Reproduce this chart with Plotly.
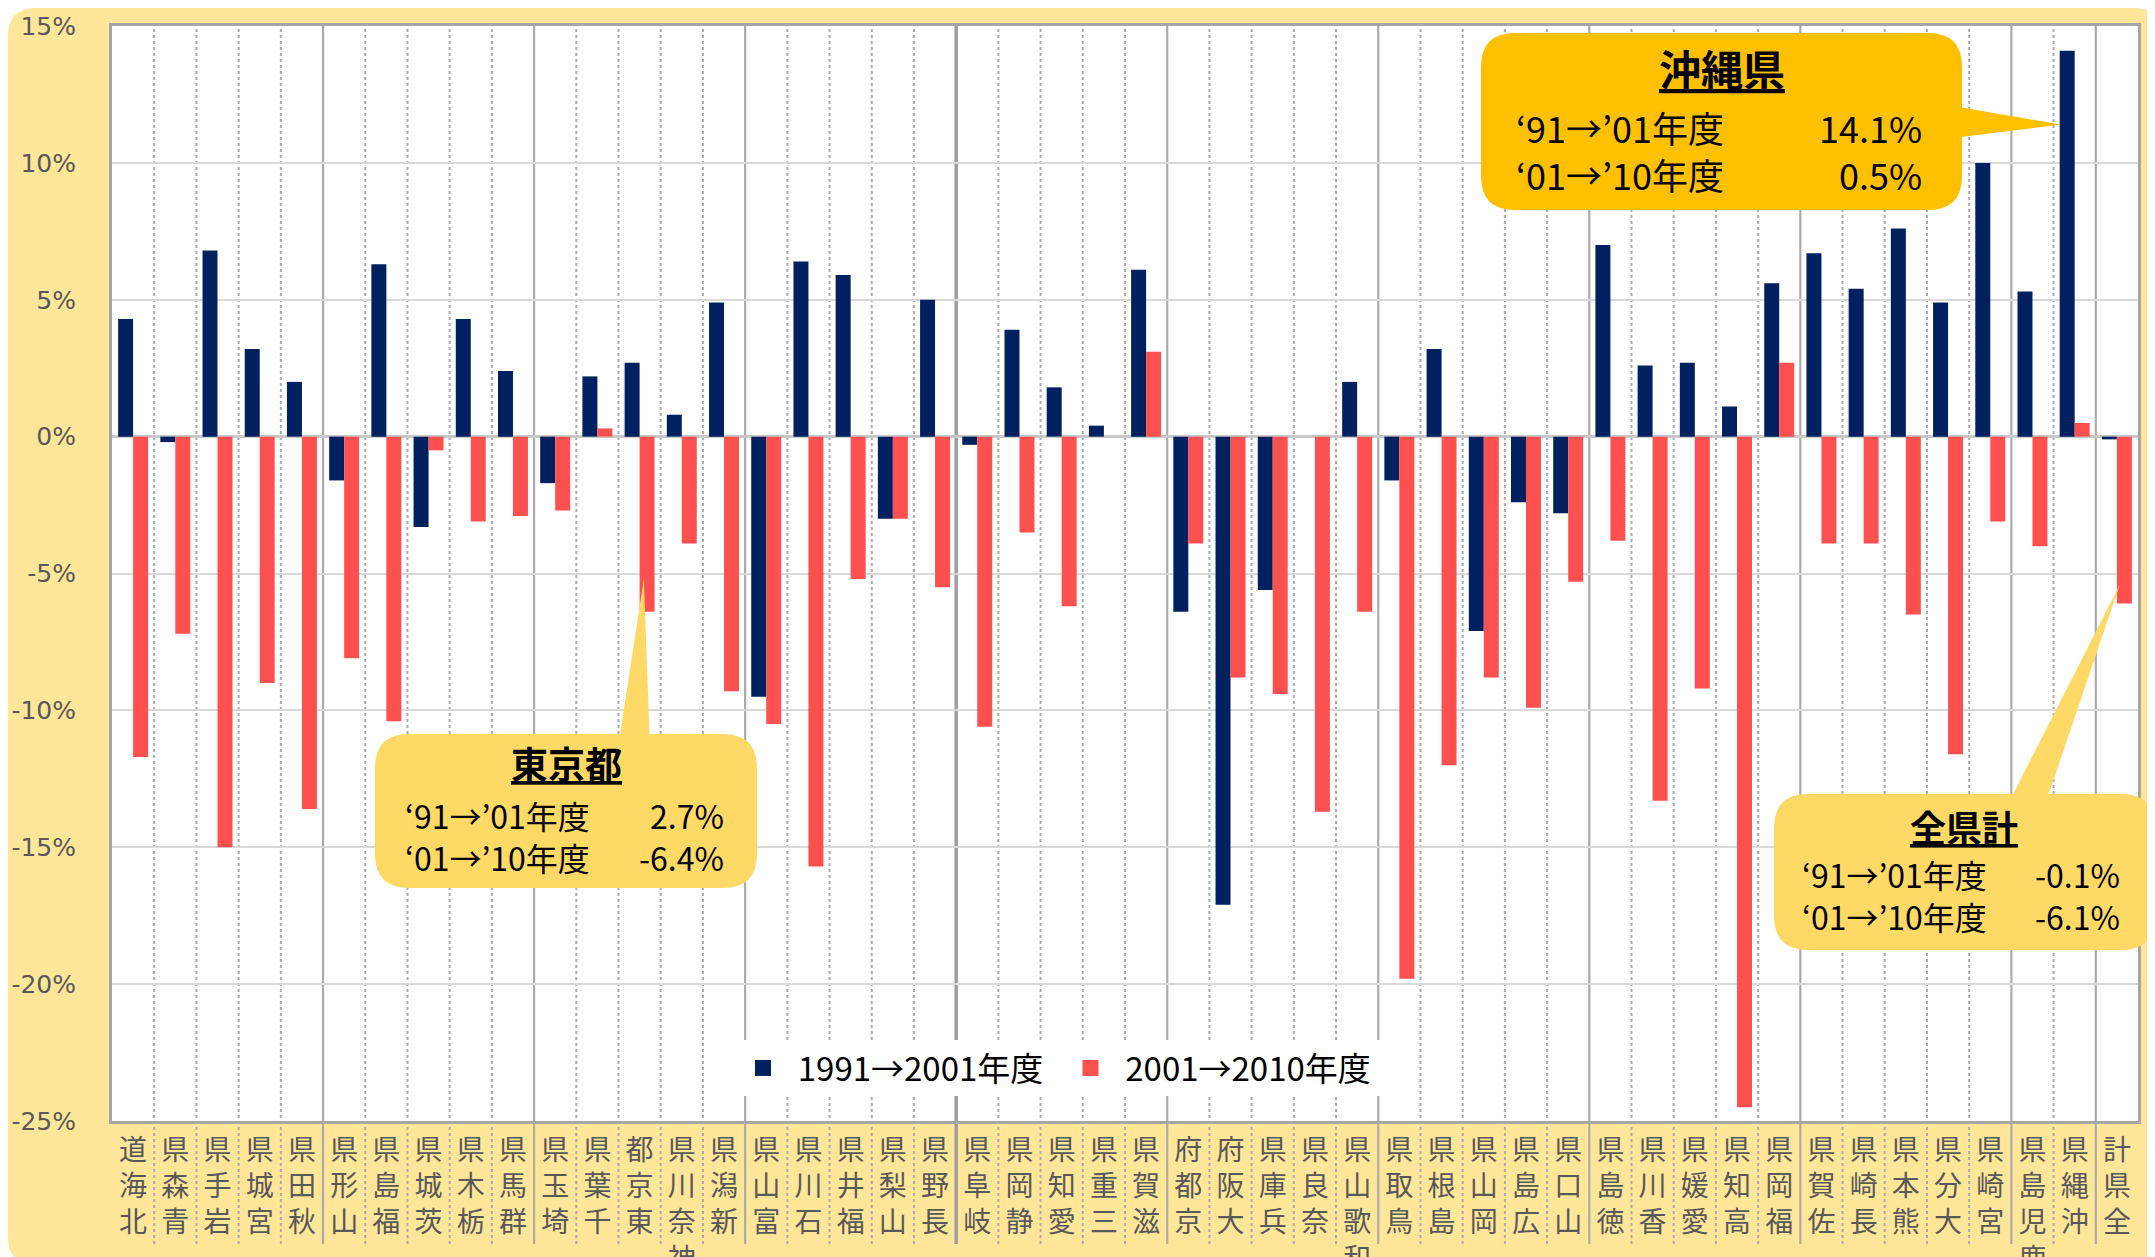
import plotly.graph_objects as go

# ---------------- data ----------------
prefectures = ["北海道", "青森県", "岩手県", "宮城県", "秋田県", "山形県", "福島県", "茨城県", "栃木県", "群馬県",
               "埼玉県", "千葉県", "東京都", "神奈川県", "新潟県", "富山県", "石川県", "福井県", "山梨県", "長野県",
               "岐阜県", "静岡県", "愛知県", "三重県", "滋賀県", "京都府", "大阪府", "兵庫県", "奈良県", "和歌山県",
               "鳥取県", "島根県", "岡山県", "広島県", "山口県", "徳島県", "香川県", "愛媛県", "高知県", "福岡県",
               "佐賀県", "長崎県", "熊本県", "大分県", "宮崎県", "鹿児島県", "沖縄県", "全県計"]

change_1991_2001 = [4.3, -0.2, 6.8, 3.2, 2.0, -1.6, 6.3, -3.3, 4.3, 2.4,
                    -1.7, 2.2, 2.7, 0.8, 4.9, -9.5, 6.4, 5.9, -3.0, 5.0,
                    -0.3, 3.9, 1.8, 0.4, 6.1, -6.4, -17.1, -5.6, 0.0, 2.0,
                    -1.6, 3.2, -7.1, -2.4, -2.8, 7.0, 2.6, 2.7, 1.1, 5.6,
                    6.7, 5.4, 7.6, 4.9, 10.0, 5.3, 14.1, -0.1]

change_2001_2010 = [-11.7, -7.2, -15.0, -9.0, -13.6, -8.1, -10.4, -0.5, -3.1, -2.9,
                    -2.7, 0.3, -6.4, -3.9, -9.3, -10.5, -15.7, -5.2, -3.0, -5.5,
                    -10.6, -3.5, -6.2, 0.0, 3.1, -3.9, -8.8, -9.4, -13.7, -6.4,
                    -19.8, -12.0, -8.8, -9.9, -5.3, -3.8, -13.3, -9.2, -24.5, 2.7,
                    -3.9, -3.9, -6.5, -11.6, -3.1, -4.0, 0.5, -6.1]

series_names = ["1991→2001年度", "2001→2010年度"]
period_labels = ["‘91→’01年度", "‘01→’10年度"]
y_ticks = [-25, -20, -15, -10, -5, 0, 5, 10, 15]
y_tick_labels = ["-25%", "-20%", "-15%", "-10%", "-5%", "0%", "5%", "10%", "15%"]
group_ends = [5, 10, 15, 20, 25, 30, 35, 40, 45, 47]   # solid separators after these counts

# ---------------- layout geometry ----------------
W, H = 2155, 1257
ML, MR, MT, MB = 104, 25, 18, 144
PW, PH = W - ML - MR, H - MT - MB
YMIN, YMAX = -25, 15
N = len(prefectures)

NAVY = "#002060"
RED = "#FF5050"
BG = "#FFE699"
GRAY_TXT = "#595959"
CJK = "Noto Sans CJK JP, Noto Sans, sans-serif"
NB = "\u00a0"


def px(x):
    return (x - ML) / PW


def py(y):
    return (H - MB - y) / PH


def data_px(cat, v, off=0.0):
    i = prefectures.index(cat)
    return ML + (i + 0.5 + off) * PW / N, MT + (YMAX - v) / (YMAX - YMIN) * PH


def rrect(x0, y0, x1, y1, r):
    return (f"M{px(x0 + r)},{py(y0)} L{px(x1 - r)},{py(y0)} Q{px(x1)},{py(y0)} {px(x1)},{py(y0 + r)} "
            f"L{px(x1)},{py(y1 - r)} Q{px(x1)},{py(y1)} {px(x1 - r)},{py(y1)} "
            f"L{px(x0 + r)},{py(y1)} Q{px(x0)},{py(y1)} {px(x0)},{py(y1 - r)} "
            f"L{px(x0)},{py(y0 + r)} Q{px(x0)},{py(y0)} {px(x0 + r)},{py(y0)} Z")


def wedge(b1, b2, tip):
    return f"M{px(b1[0])},{py(b1[1])} L{px(b2[0])},{py(b2[1])} L{px(tip[0])},{py(tip[1])} Z"


tick_text = ["<br>".join(reversed(list(p))) for p in prefectures]

fig = go.Figure()
fig.add_trace(go.Bar(x=prefectures, y=change_1991_2001, name=series_names[0], showlegend=False,
                     marker=dict(color=NAVY, line=dict(width=0))))
fig.add_trace(go.Bar(x=prefectures, y=change_2001_2010, name=series_names[1], showlegend=False,
                     marker=dict(color=RED, line=dict(width=0))))
# legend entries (larger square swatches)
for nm, col in zip(series_names, [NAVY, RED]):
    fig.add_trace(go.Scatter(x=[None], y=[None], mode="markers", name=NB * 2 + nm + NB * 3,
                             marker=dict(symbol="square", size=16, color=col)))

shapes = []
# background
shapes.append(dict(type="path", xref="paper", yref="paper", layer="below",
                   path=rrect(0, 0, W, H, 28), fillcolor=BG, line=dict(width=0)))
shapes.append(dict(type="rect", xref="paper", yref="paper", layer="below",
                   x0=0, x1=1, y0=0, y1=1, fillcolor="white", line=dict(width=0)))
# vertical separators
for k in range(1, N):
    solid = k in group_ends
    shapes.append(dict(type="line", xref="x", yref="paper", layer="below",
                       x0=k - 0.5, x1=k - 0.5, y0=py(1236), y1=1,
                       line=dict(color="#9E9E9E" if k == 20 else "#ABABAB",
                                 width=3.5 if k == 20 else (2.2 if solid else 2),
                                 dash="solid" if solid else "dot")))

# callouts
tk_tip = data_px("東京都", -5.2, 0.1)
ok_tip = data_px("沖縄県", 11.4, -0.33)
all_tip = data_px("全県計", -5.4, 0.07)

boxes = [
    dict(box=(367, 726, 749, 880), color="#FFD966", wedge=((610, 740), (642, 740), tk_tip)),
    dict(box=(1473, 25, 1954, 202), color="#FFC000", wedge=((1945, 98), (1945, 130), ok_tip)),
    dict(box=(1766, 786, 2147, 942), color="#FFD966", wedge=((1998, 800), (2036, 800), all_tip)),
]
for b in boxes:
    shapes.append(dict(type="path", xref="paper", yref="paper", layer="above",
                       path=wedge(*b["wedge"]), fillcolor=b["color"], line=dict(width=0)))
    shapes.append(dict(type="path", xref="paper", yref="paper", layer="above",
                       path=rrect(*b["box"], 34), fillcolor=b["color"], line=dict(width=0)))

annotations = []


def add_callout(name, cx, ty, ly, lx, rx, tsize, bsize):
    i = prefectures.index(name)
    annotations.append(dict(xref="paper", yref="paper", x=px(cx), y=py(ty), text=f"<b><u>{name}</u></b>",
                            showarrow=False, xanchor="center", yanchor="middle",
                            font=dict(family=CJK, size=tsize, color="black")))
    annotations.append(dict(xref="paper", yref="paper", x=px(lx), y=py(ly), text="<br>".join(period_labels),
                            showarrow=False, xanchor="left", yanchor="middle", align="left",
                            font=dict(family=CJK, size=bsize, color="black")))
    vals = [f"{change_1991_2001[i]:.1f}%", f"{change_2001_2010[i]:.1f}%"]
    annotations.append(dict(xref="paper", yref="paper", x=px(rx), y=py(ly), text="<br>".join(vals),
                            showarrow=False, xanchor="right", yanchor="middle", align="right",
                            font=dict(family=CJK, size=bsize, color="black")))


add_callout("東京都", 558, 755, 828, 395, 718, 37, 32)
add_callout("沖縄県", 1714, 60, 142, 1506, 1916, 42, 36)
add_callout("全県計", 1956, 818, 887, 1792, 2114, 36, 32)

fig.update_layout(
    width=W, height=H,
    margin=dict(l=ML, r=MR, t=MT, b=MB, pad=0, autoexpand=False),
    paper_bgcolor="white",
    plot_bgcolor="white",
    barmode="group",
    bargap=0.29,
    bargroupgap=0,
    shapes=shapes,
    annotations=annotations,
    showlegend=True,
    legend=dict(orientation="h", x=px(735), y=py(1060), xanchor="left", yanchor="middle",
                bgcolor="white", font=dict(family=CJK, size=33, color="black"),
                itemsizing="trace", traceorder="normal", itemwidth=30, tracegroupgap=0),
    xaxis=dict(type="category", range=[-0.5, N - 0.5], tickmode="array", tickvals=prefectures,
               ticktext=tick_text, tickangle=0, showgrid=False, zeroline=False, automargin=False,
               showline=True, mirror=True, linecolor="#A6A6A6", linewidth=3,
               ticks="", tickfont=dict(family=CJK, size=28, color=GRAY_TXT),
               ticklabelstandoff=2),
    yaxis=dict(range=[YMIN, YMAX], tickmode="array", tickvals=y_ticks, ticktext=y_tick_labels,
               showgrid=True, gridcolor="#D9D9D9", gridwidth=2, automargin=False,
               zeroline=True, zerolinecolor="#C8C8C8", zerolinewidth=3,
               showline=True, mirror=True, linecolor="#A6A6A6", linewidth=3,
               ticks="", tickfont=dict(family="DejaVu Sans, sans-serif", size=25, color=GRAY_TXT),
               ticklabelstandoff=28),
)

fig.write_html("out.html")
